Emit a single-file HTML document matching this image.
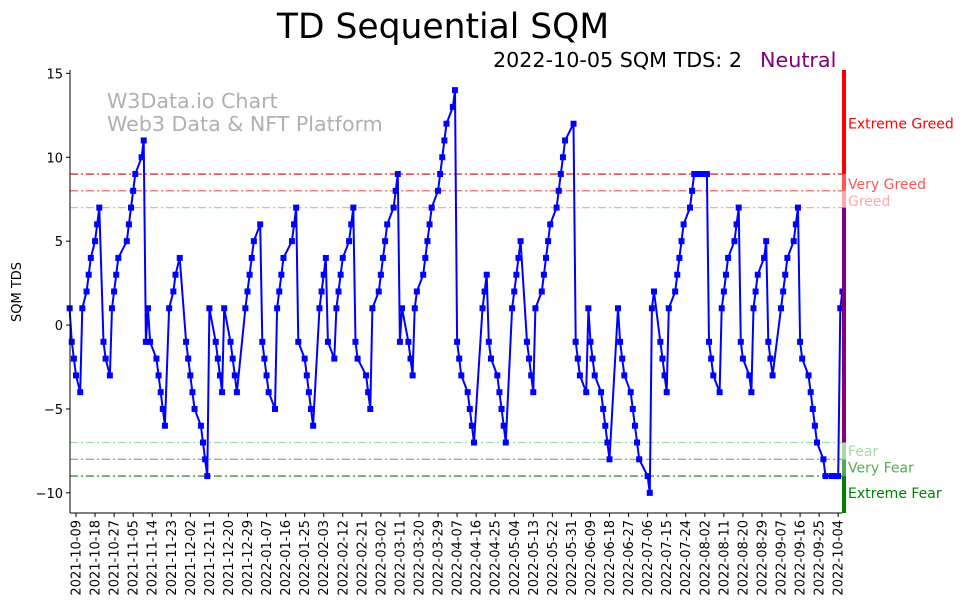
<!DOCTYPE html>
<html><head><meta charset="utf-8">
<style>
html,body{margin:0;padding:0;background:#fff;}
svg{display:block;font-family:"DejaVu Sans","Liberation Sans",sans-serif;}
</style></head>
<body>
<svg id="chart" width="962" height="613" viewBox="0 0 962 613" xmlns="http://www.w3.org/2000/svg">
<text x="443" y="38" text-anchor="middle" font-size="34.5" fill="#000">TD Sequential SQM</text>
<text x="742" y="67" text-anchor="end" font-size="20.7" fill="#000">2022-10-05 SQM TDS: 2</text>
<text x="760" y="67" font-size="20.7" fill="#800080">Neutral</text>
<text x="107" y="108" font-size="20.6" fill="#b0b0b0">W3Data.io Chart</text>
<text x="107" y="131" font-size="20.6" fill="#b0b0b0">Web3 Data &amp; NFT Platform</text>
<text transform="translate(21,292) rotate(-90)" text-anchor="middle" font-size="13" fill="#000">SQM TDS</text>
<g id="grid"></g><g id="series"></g><g id="axes"></g><g id="zones"></g>
</svg>
<script>
const dayOffsets=[-3,-2,-1,0,2,3,5,6,7,9,10,11,13,14,16,17,18,19,20,24,25,26,27,28,31,32,33,34,35,38,39,40,41,42,44,46,47,49,52,53,54,55,56,59,60,61,62,63,66,67,68,69,70,73,74,75,76,80,81,82,83,84,87,88,89,90,91,94,95,96,97,98,102,103,104,105,108,109,110,111,112,115,116,117,118,119,122,123,124,125,126,129,130,131,132,133,137,138,139,140,143,144,145,146,147,150,151,152,153,154,157,158,159,160,161,164,165,166,167,168,171,172,173,174,175,178,179,180,181,182,185,186,187,188,192,193,194,195,196,199,200,201,202,203,206,207,208,209,210,213,214,215,216,217,220,221,222,223,224,227,228,229,230,231,235,236,237,238,241,242,243,244,245,248,249,250,251,252,256,257,258,259,262,263,264,265,266,270,271,272,273,276,277,278,279,280,283,284,285,286,287,290,291,292,294,296,297,298,299,300,301,304,305,306,307,308,311,312,313,314,315,318,319,320,321,322,325,326,327,328,329,333,334,335,336,339,340,341,342,343,346,347,348,349,350,353,354,357,359,360,361,362];
const tdsValues=[1,-1,-2,-3,-4,1,2,3,4,5,6,7,-1,-2,-3,1,2,3,4,5,6,7,8,9,10,11,-1,1,-1,-2,-3,-4,-5,-6,1,2,3,4,-1,-2,-3,-4,-5,-6,-7,-8,-9,1,-1,-2,-3,-4,1,-1,-2,-3,-4,1,2,3,4,5,6,-1,-2,-3,-4,-5,1,2,3,4,5,6,7,-1,-2,-3,-4,-5,-6,1,2,3,4,-1,-2,1,2,3,4,5,6,7,-1,-2,-3,-4,-5,1,2,3,4,5,6,7,8,9,-1,1,-1,-2,-3,1,2,3,4,5,6,7,8,9,10,11,12,13,14,-1,-2,-3,-4,-5,-6,-7,1,2,3,-1,-2,-3,-4,-5,-6,-7,1,2,3,4,5,-1,-2,-3,-4,1,2,3,4,5,6,7,8,9,10,11,12,-1,-2,-3,-4,1,-1,-2,-3,-4,-5,-6,-7,-8,1,-1,-2,-3,-4,-5,-6,-7,-8,-9,-10,1,2,-1,-2,-3,-4,1,2,3,4,5,6,7,8,9,9,9,9,9,-1,-2,-3,-4,1,2,3,4,5,6,7,-1,-2,-3,-4,1,2,3,4,5,-1,-2,-3,1,2,3,4,5,6,7,-1,-2,-3,-4,-5,-6,-7,-8,-9,-9,-9,-9,1,2];
const tickDays=[0,9,18,27,36,45,54,63,72,81,90,99,108,117,126,135,144,153,162,171,180,189,198,207,216,225,234,243,252,261,270,279,288,297,306,315,324,333,342,351,360];
const tickLabels=["2021-10-09","2021-10-18","2021-10-27","2021-11-05","2021-11-14","2021-11-23","2021-12-02","2021-12-11","2021-12-20","2021-12-29","2022-01-07","2022-01-16","2022-01-25","2022-02-03","2022-02-12","2022-02-21","2022-03-02","2022-03-11","2022-03-20","2022-03-29","2022-04-07","2022-04-16","2022-04-25","2022-05-04","2022-05-13","2022-05-22","2022-05-31","2022-06-09","2022-06-18","2022-06-27","2022-07-06","2022-07-15","2022-07-24","2022-08-02","2022-08-11","2022-08-20","2022-08-29","2022-09-07","2022-09-16","2022-09-25","2022-10-04"];
const yTicks=[-10,-5,0,5,10,15];
const levelValues=[9,8,7,-7,-8,-9];
const levelColors=["#e00000","#ff4d4d","#ffa8a8","#a0dda0","#5cb85c","#008000"];
const zoneLabels=["Extreme Greed","Very Greed","Greed","Fear","Very Fear","Extreme Fear"];
const zoneLabelValues=[12,8.4,7.4,-7.5,-8.5,-10];

const L=70,R=842,T=70,B=513;
const D0=-2.83,D1=361.8,V0=-11.2,V1=15.2;
const xS=d=>L+(d-D0)/(D1-D0)*(R-L);
const yS=v=>B-(v-V0)/(V1-V0)*(B-T);
const NS="http://www.w3.org/2000/svg";
function mk(tag,attrs,parent){const e=document.createElementNS(NS,tag);for(const k in attrs)e.setAttribute(k,attrs[k]);parent.appendChild(e);return e;}
const grid=document.getElementById('grid'),series=document.getElementById('series'),axes=document.getElementById('axes'),zones=document.getElementById('zones');

levelValues.forEach((v,i)=>{
  const l=mk('line',{x1:L,x2:R,y1:yS(v),y2:yS(v),stroke:levelColors[i],'stroke-width':1.2,'stroke-dasharray':'8 3 2 3'},grid);
  
  
});

let pts=dayOffsets.map((d,i)=>xS(d).toFixed(1)+','+yS(tdsValues[i]).toFixed(1)).join(' ');
const pl=mk('polyline',{points:pts,fill:'none',stroke:'#0000ff','stroke-width':2,'stroke-linejoin':'round'},series);


dayOffsets.forEach((d,i)=>{
  const r=mk('rect',{x:xS(d)-3,y:yS(tdsValues[i])-3,width:6,height:6,fill:'#0000ff'},series);
  
  
});

const ax=mk('line',{x1:L,x2:L,y1:T,y2:B,stroke:'#000','stroke-width':1},axes);


const bx=mk('line',{x1:L,x2:R,y1:B,y2:B,stroke:'#000','stroke-width':1},axes);


yTicks.forEach(v=>{
  const y=yS(v);
  mk('line',{x1:L-4,x2:L,y1:y,y2:y,stroke:'#000'},axes);
  const t=mk('text',{x:L-7,y:y+5,'text-anchor':'end','font-size':13,fill:'#000'},axes);
  t.textContent=v<0?'\u2212'+Math.abs(v):String(v);
  
  
});
tickDays.forEach((d,i)=>{
  const x=xS(d);
  mk('line',{x1:x,x2:x,y1:B,y2:B+4,stroke:'#000'},axes);
  const t=mk('text',{transform:'translate('+(x+4.5)+','+(B+7)+') rotate(-90)','text-anchor':'end','font-size':13,fill:'#000'},axes);
  t.textContent=tickLabels[i];
  
  
});

const bands=[[V1,9,'#ff0000'],[9,8,'#ff5555'],[8,7,'#ffaaaa'],[7,-7,'#800080'],[-7,-8,'#aad8aa'],[-8,-9,'#55aa55'],[-9,V0,'#008000']];
bands.forEach(b=>{
  const r=mk('rect',{x:R,y:yS(b[0]),width:4,height:yS(b[1])-yS(b[0]),fill:b[2]},zones);
  
  
});
const zoneTextColors=["#ff0000","#ff5555","#ffaaaa","#aad8aa","#55aa55","#008000"];
zoneLabels.forEach((s,i)=>{
  const t=mk('text',{x:848,y:yS(zoneLabelValues[i])+5,'font-size':14,fill:zoneTextColors[i]},zones);
  t.textContent=s;
  
  
});
</script>
</body></html>
